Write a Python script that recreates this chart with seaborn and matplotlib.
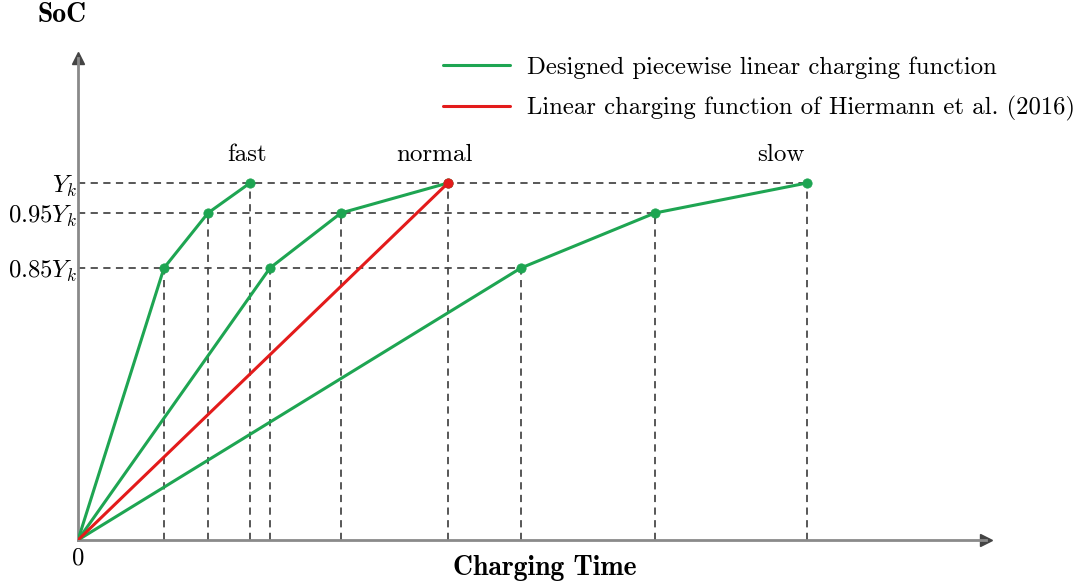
import matplotlib
matplotlib.use('Agg')
import matplotlib.pyplot as plt
from matplotlib.lines import Line2D
import seaborn as sns
import pandas as pd

# 数据：充电时间（任意单位）与 SoC（示意高度，Yk = 1）
soc_levels = [0.762, 0.916, 1.0]
soc_labels = ['$0.85Y_k$', '$0.95Y_k$', '$Y_k$']
fast_time = [86, 130, 172]
normal_time = [192, 263, 370]
slow_time = [443, 577, 729]
speed_names = ['fast', 'normal', 'slow']
name_x = [169, 356, 703]
name_y = 1.078

sns.set_style('white')
plt.rcParams['font.family'] = ['cmr10', 'DejaVu Serif']
plt.rcParams['mathtext.fontset'] = 'cm'
plt.rcParams['axes.formatter.use_mathtext'] = True
plt.rcParams['text.color'] = 'black'
plt.rcParams['xtick.color'] = 'black'
plt.rcParams['ytick.color'] = 'black'
plt.rcParams['axes.labelcolor'] = 'black'

green = '#1ea552'
red = '#e31b1b'

fig = plt.figure(figsize=(10.75, 5.81), dpi=100)
ax = fig.add_axes([78 / 1075, 41 / 581, 908 / 1075, 482 / 581])
ax.set_xlim(0, 908)
ax.set_ylim(0, 482 / 357)

# 虚线辅助线
for times in [fast_time, normal_time, slow_time]:
    for t, s in zip(times, soc_levels):
        ax.vlines(t, 0, s, colors='#4a4a4a', linestyles=(0, (4, 3)), lw=1.3, zorder=1)
for i, s in enumerate(soc_levels):
    xmax = max(fast_time[i], normal_time[i], slow_time[i])
    ax.hlines(s, 0, xmax, colors='#4a4a4a', linestyles=(0, (4, 3)), lw=1.3, zorder=1)

# 分段线性充电函数
for times in [fast_time, normal_time, slow_time]:
    df = pd.DataFrame({'t': [0] + times, 'soc': [0] + soc_levels})
    sns.lineplot(data=df, x='t', y='soc', sort=False, color=green, lw=2.2, ax=ax, zorder=3)
    sns.scatterplot(x=times, y=soc_levels, color=green, s=45, edgecolor=green, ax=ax, zorder=4)

# Hiermann et al. 的线性充电函数
sns.lineplot(x=[0, normal_time[-1]], y=[0, soc_levels[-1]], color=red, lw=2.2, ax=ax, zorder=5)
sns.scatterplot(x=[normal_time[-1]], y=[soc_levels[-1]], color=red, s=45, edgecolor=red, ax=ax, zorder=6)

for name, x in zip(speed_names, name_x):
    ax.text(x, name_y, name, ha='center', va='center', fontsize=18)

# 坐标轴样式：带箭头
for side in ['top', 'right']:
    ax.spines[side].set_visible(False)
for side in ['left', 'bottom']:
    ax.spines[side].set_color('#8a8a8a')
    ax.spines[side].set_linewidth(2)
ax.plot(1, 0, '>', color='#444444', ms=9, transform=ax.get_yaxis_transform(), clip_on=False)
ax.plot(0, 1, '^', color='#444444', ms=9, transform=ax.get_xaxis_transform(), clip_on=False)

ax.set_xticks([0], ['0'])
ax.set_yticks(soc_levels, soc_labels)
ax.tick_params(axis='both', length=0, labelsize=17.8)
ax.tick_params(axis='x', pad=5)
ax.tick_params(axis='y', pad=1)

ax.set_xlabel('Charging Time', fontsize=20, family=['cmb10', 'DejaVu Serif'])
ax.xaxis.set_label_coords(0.514, -0.031)
ax.set_ylabel('SoC', fontsize=20, family=['cmb10', 'DejaVu Serif'], rotation=0, ha='center', va='center')
ax.yaxis.set_label_coords(-0.018, 1.089)

handles = [Line2D([], [], color=green, lw=2.2), Line2D([], [], color=red, lw=2.2)]
labels = ['Designed piecewise linear charging function',
          'Linear charging function of Hiermann et al. (2016)']
ax.legend(handles, labels, loc='upper left', bbox_to_anchor=(443 / 1075, 1 - 56.5 / 581),
          bbox_transform=fig.transFigure, frameon=False, fontsize=17.8, handlelength=2.7,
          handletextpad=0.69, labelspacing=0.7, borderpad=0, borderaxespad=0)

fig.savefig('out.png', dpi=100)
